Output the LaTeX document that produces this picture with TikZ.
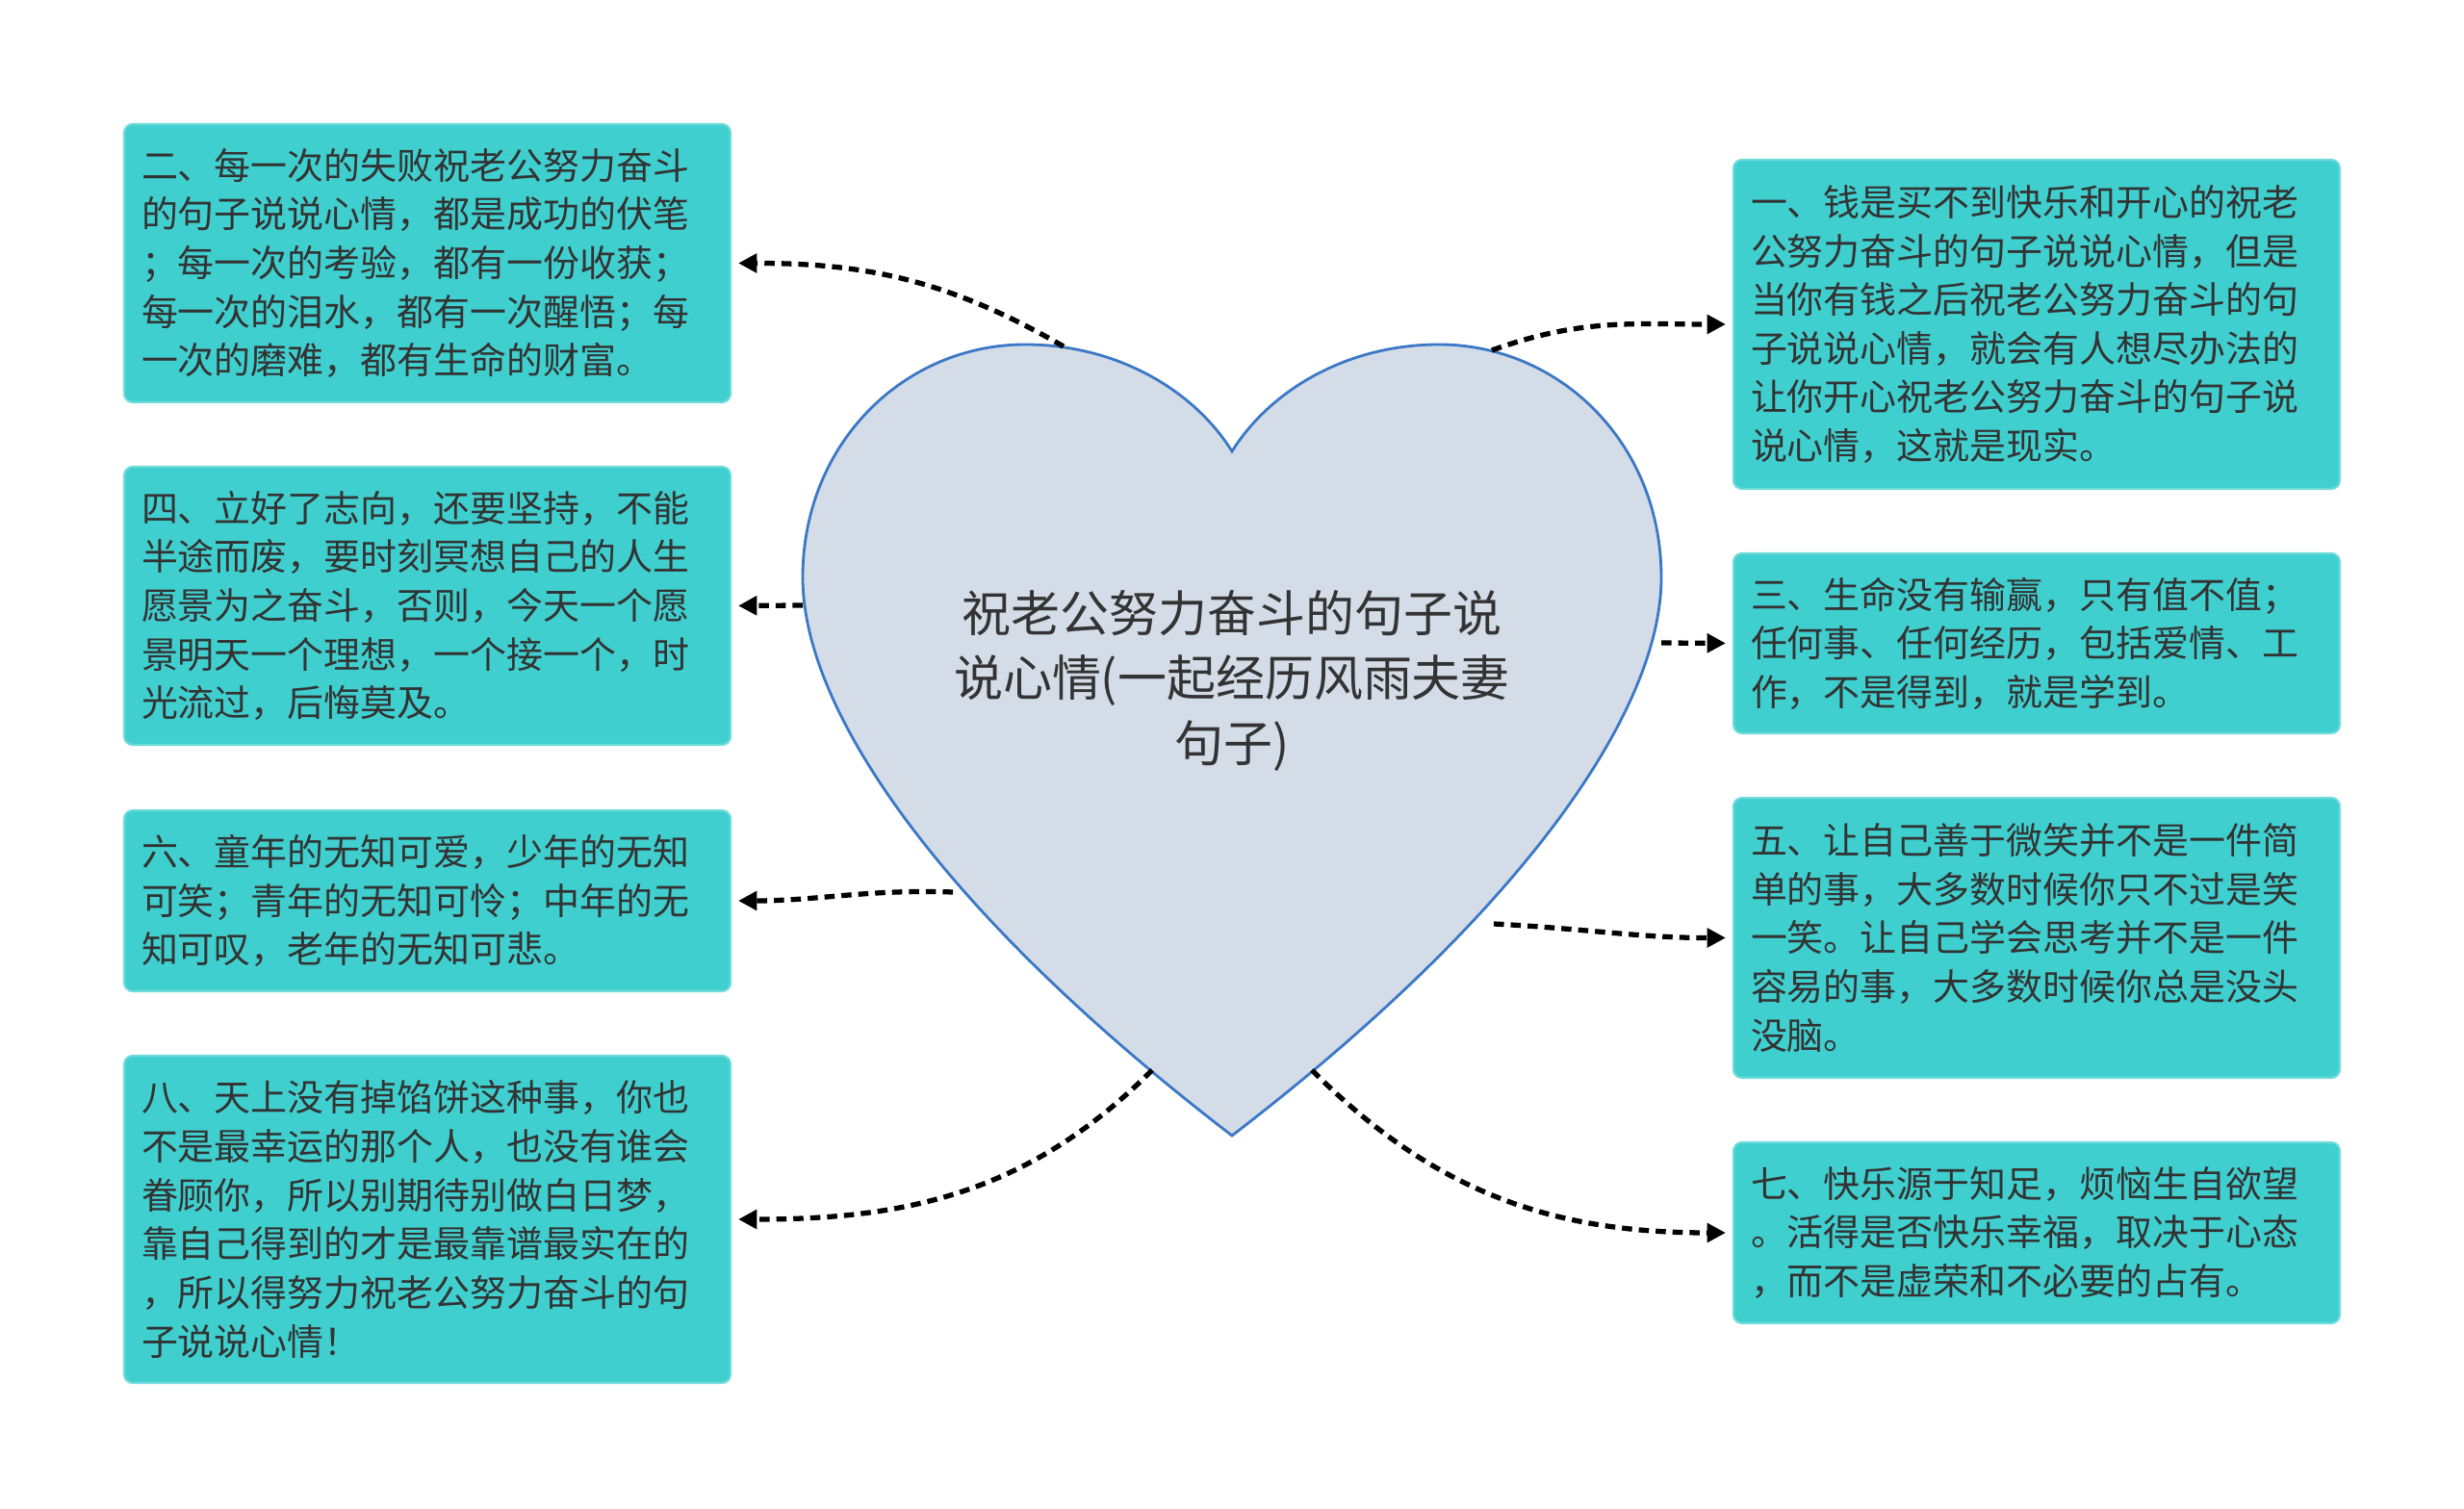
\documentclass[tikz,border=0pt]{standalone}
\usepackage{fontspec}
\newfontfamily\cjk{Noto Sans CJK SC}
\usetikzlibrary{arrows.meta}
\definecolor{cardfill}{HTML}{40CFCF}
\definecolor{heartfill}{HTML}{D4DCE7}
\definecolor{heartline}{HTML}{3B78C6}
\definecolor{inktxt}{HTML}{333333}

\begin{document}
\begin{tikzpicture}[
  card/.style={fill=cardfill, draw=cardfill!75!white, line width=0.6pt, rounded corners=2.5pt,
    text width=5.94cm, inner xsep=0.18cm, inner ysep=0pt, align=left, text=inktxt,
    font=\cjk\fontsize{10.8}{14.4}\selectfont},
  link/.style={line width=1.5pt, dash pattern=on 3pt off 2pt,
    -{Triangle[length=5.5pt,width=5.5pt]}, shorten >=2pt}]
  \useasboundingbox (0,0) rectangle (25.6,15.67);

  % heart in the middle
  \draw[fill=heartfill, draw=heartline, line width=0.8pt]
    (12.80,10.98) .. controls (12.40,11.62) and (11.60,12.09) .. (10.65,12.09)
    .. controls (9.40,12.09) and (8.34,11.07) .. (8.34,9.67)
    .. controls (8.34,8.27) and (9.80,6.17) .. (12.80,3.87)
    .. controls (15.80,6.17) and (17.26,8.27) .. (17.26,9.67)
    .. controls (17.26,11.07) and (16.20,12.09) .. (14.95,12.09)
    .. controls (14.00,12.09) and (13.20,11.62) .. (12.80,10.98) -- cycle;
  \node[text=inktxt, align=center, font=\cjk\fontsize{14.5}{19.2}\selectfont] (title) at (12.80,8.60)
    {祝老公努力奋斗的句子说\\说心情(一起经历风雨夫妻\\句子)};

  % points on the heart where the links start
  \coordinate (h2) at (11.05,12.07);
  \coordinate (h4) at (8.34,9.38);
  \coordinate (h6) at (9.90,6.40);
  \coordinate (h8) at (11.97,4.55);
  \coordinate (h1) at (15.50,12.03);
  \coordinate (h3) at (17.26,8.99);
  \coordinate (h5) at (15.52,6.07);
  \coordinate (h7) at (13.63,4.55);

  % left column
  \node[card, minimum height=2.89cm] (b2) at (4.44,12.935)
    {二、每一次的失败祝老公努力奋斗\\的句子说说心情，都是成功的伏笔\\；每一次的考验，都有一份收获；\\每一次的泪水，都有一次醒悟；每\\一次的磨难，都有生命的财富。};
  \node[card, minimum height=2.89cm] (b4) at (4.44,9.375)
    {四、立好了志向，还要坚持，不能\\半途而废，要时刻冥想自己的人生\\愿景为之奋斗，否则，今天一个愿\\景明天一个理想，一个接一个，时\\光流过，后悔莫及。};
  \node[card, minimum height=1.88cm] (b6) at (4.44,6.31)
    {六、童年的无知可爱，少年的无知\\可笑；青年的无知可怜；中年的无\\知可叹，老年的无知可悲。};
  \node[card, minimum height=3.40cm] (b8) at (4.44,3.00)
    {八、天上没有掉馅饼这种事，你也\\不是最幸运的那个人，也没有谁会\\眷顾你，所以别期待别做白日梦，\\靠自己得到的才是最靠谱最实在的\\，所以得努力祝老公努力奋斗的句\\子说说心情！};

  % right column
  \node[card, minimum height=3.42cm] (b1) at (21.16,12.30)
    {一、钱是买不到快乐和开心的祝老\\公努力奋斗的句子说说心情，但是\\当你有钱之后祝老公努力奋斗的句\\子说说心情，就会有人想尽办法的\\让你开心祝老公努力奋斗的句子说\\说心情，这就是现实。};
  \node[card, minimum height=1.87cm] (b3) at (21.16,8.985)
    {三、生命没有输赢，只有值不值；\\任何事、任何经历，包括爱情、工\\作，不是得到，就是学到。};
  \node[card, minimum height=2.91cm] (b5) at (21.16,5.925)
    {五、让自己善于微笑并不是一件简\\单的事，大多数时候你只不过是笑\\一笑。让自己学会思考并不是一件\\容易的事，大多数时候你总是没头\\没脑。};
  \node[card, minimum height=1.88cm] (b7) at (21.16,2.86)
    {七、快乐源于知足，烦恼生自欲望\\。活得是否快乐幸福，取决于心态\\，而不是虚荣和不必要的占有。};

  % links
  \draw[link] (h2) to[out=150, in=0] (b2.east);
  \draw[link] (h4) -- (b4.east);
  \draw[link] (h6) to[out=178, in=0] (b6.east);
  \draw[link] (h8) to[out=225, in=0] (b8.east);
  \draw[link] (h1) to[out=20, in=180] (b1.west);
  \draw[link] (h3) -- (b3.west);
  \draw[link] (h5) to[out=-3, in=180] (b5.west);
  \draw[link] (h7) to[out=-45, in=180] (b7.west);
\end{tikzpicture}
\end{document}
